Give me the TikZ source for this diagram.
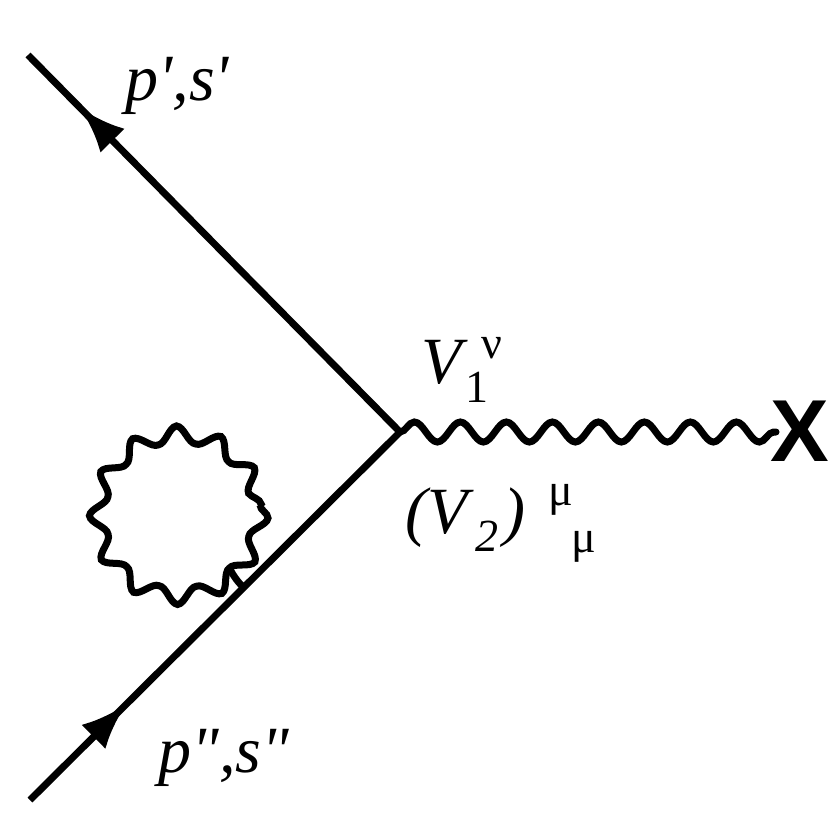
\documentclass[tikz,border=0pt]{standalone}
\usepackage{fontspec}
\setmainfont{Liberation Serif}
\newfontfamily\xfont{Liberation Sans}
\usetikzlibrary{decorations.pathmorphing,decorations.markings,arrows.meta}
\begin{document}
\begin{tikzpicture}[x=1pt,y=-1pt,line width=7pt,
  fermion/.style={postaction={decorate},decoration={markings,mark=at position #1 with {\arrow{Latex[length=46pt,width=34pt]}}}},
  photon/.style={decorate,decoration={snake,segment length=46pt,amplitude=10pt},line cap=round},
  lbl/.style={font=\fontsize{66}{70}\selectfont\itshape,inner sep=0pt,anchor=base west},
  sub/.style={font=\fontsize{46}{48}\selectfont,inner sep=0pt,anchor=base west}]
\useasboundingbox (0,0) rectangle (831,831);
\coordinate (tl) at (28,55);
\coordinate (v) at (400,432);
\coordinate (bl) at (30,800);
\coordinate (xe) at (776,432);
\coordinate (lc) at (179,505);
\draw[fermion=0.86] (v) -- (tl);
\draw[fermion=0.26] (bl) -- (v);
\draw[photon] (v) -- (xe);
\node[font=\xfont\bfseries\fontsize{88}{90}\selectfont,inner sep=0pt] (x) at (800,431) {X};
\draw[decorate,decoration={snake,segment length=41.9pt,amplitude=8pt}] (lc) circle (81);
\draw (228,566) to[out=-60,in=135] (243,587);
\node[lbl] (pp) at (122,100) {p\textquotesingle,s\textquotesingle};
\node[lbl] (ppp) at (155,772) {p\textquotedbl,s\textquotedbl};
\node[lbl] (v1) at (418,383) {V};
\node[sub] (v1s) at (462,402) {1};
\node[sub] (v1n) at (478,358) {ν};
\node[lbl] (v2) at (402,533) {(V};
\node[sub] (v2s) at (472,551) {\itshape 2};
\node[lbl] (v2c) at (500,533) {)};
\node[sub] (mu1) at (545,505) {μ};
\node[sub] (mu2) at (568,552) {μ};
\end{tikzpicture}
\end{document}
